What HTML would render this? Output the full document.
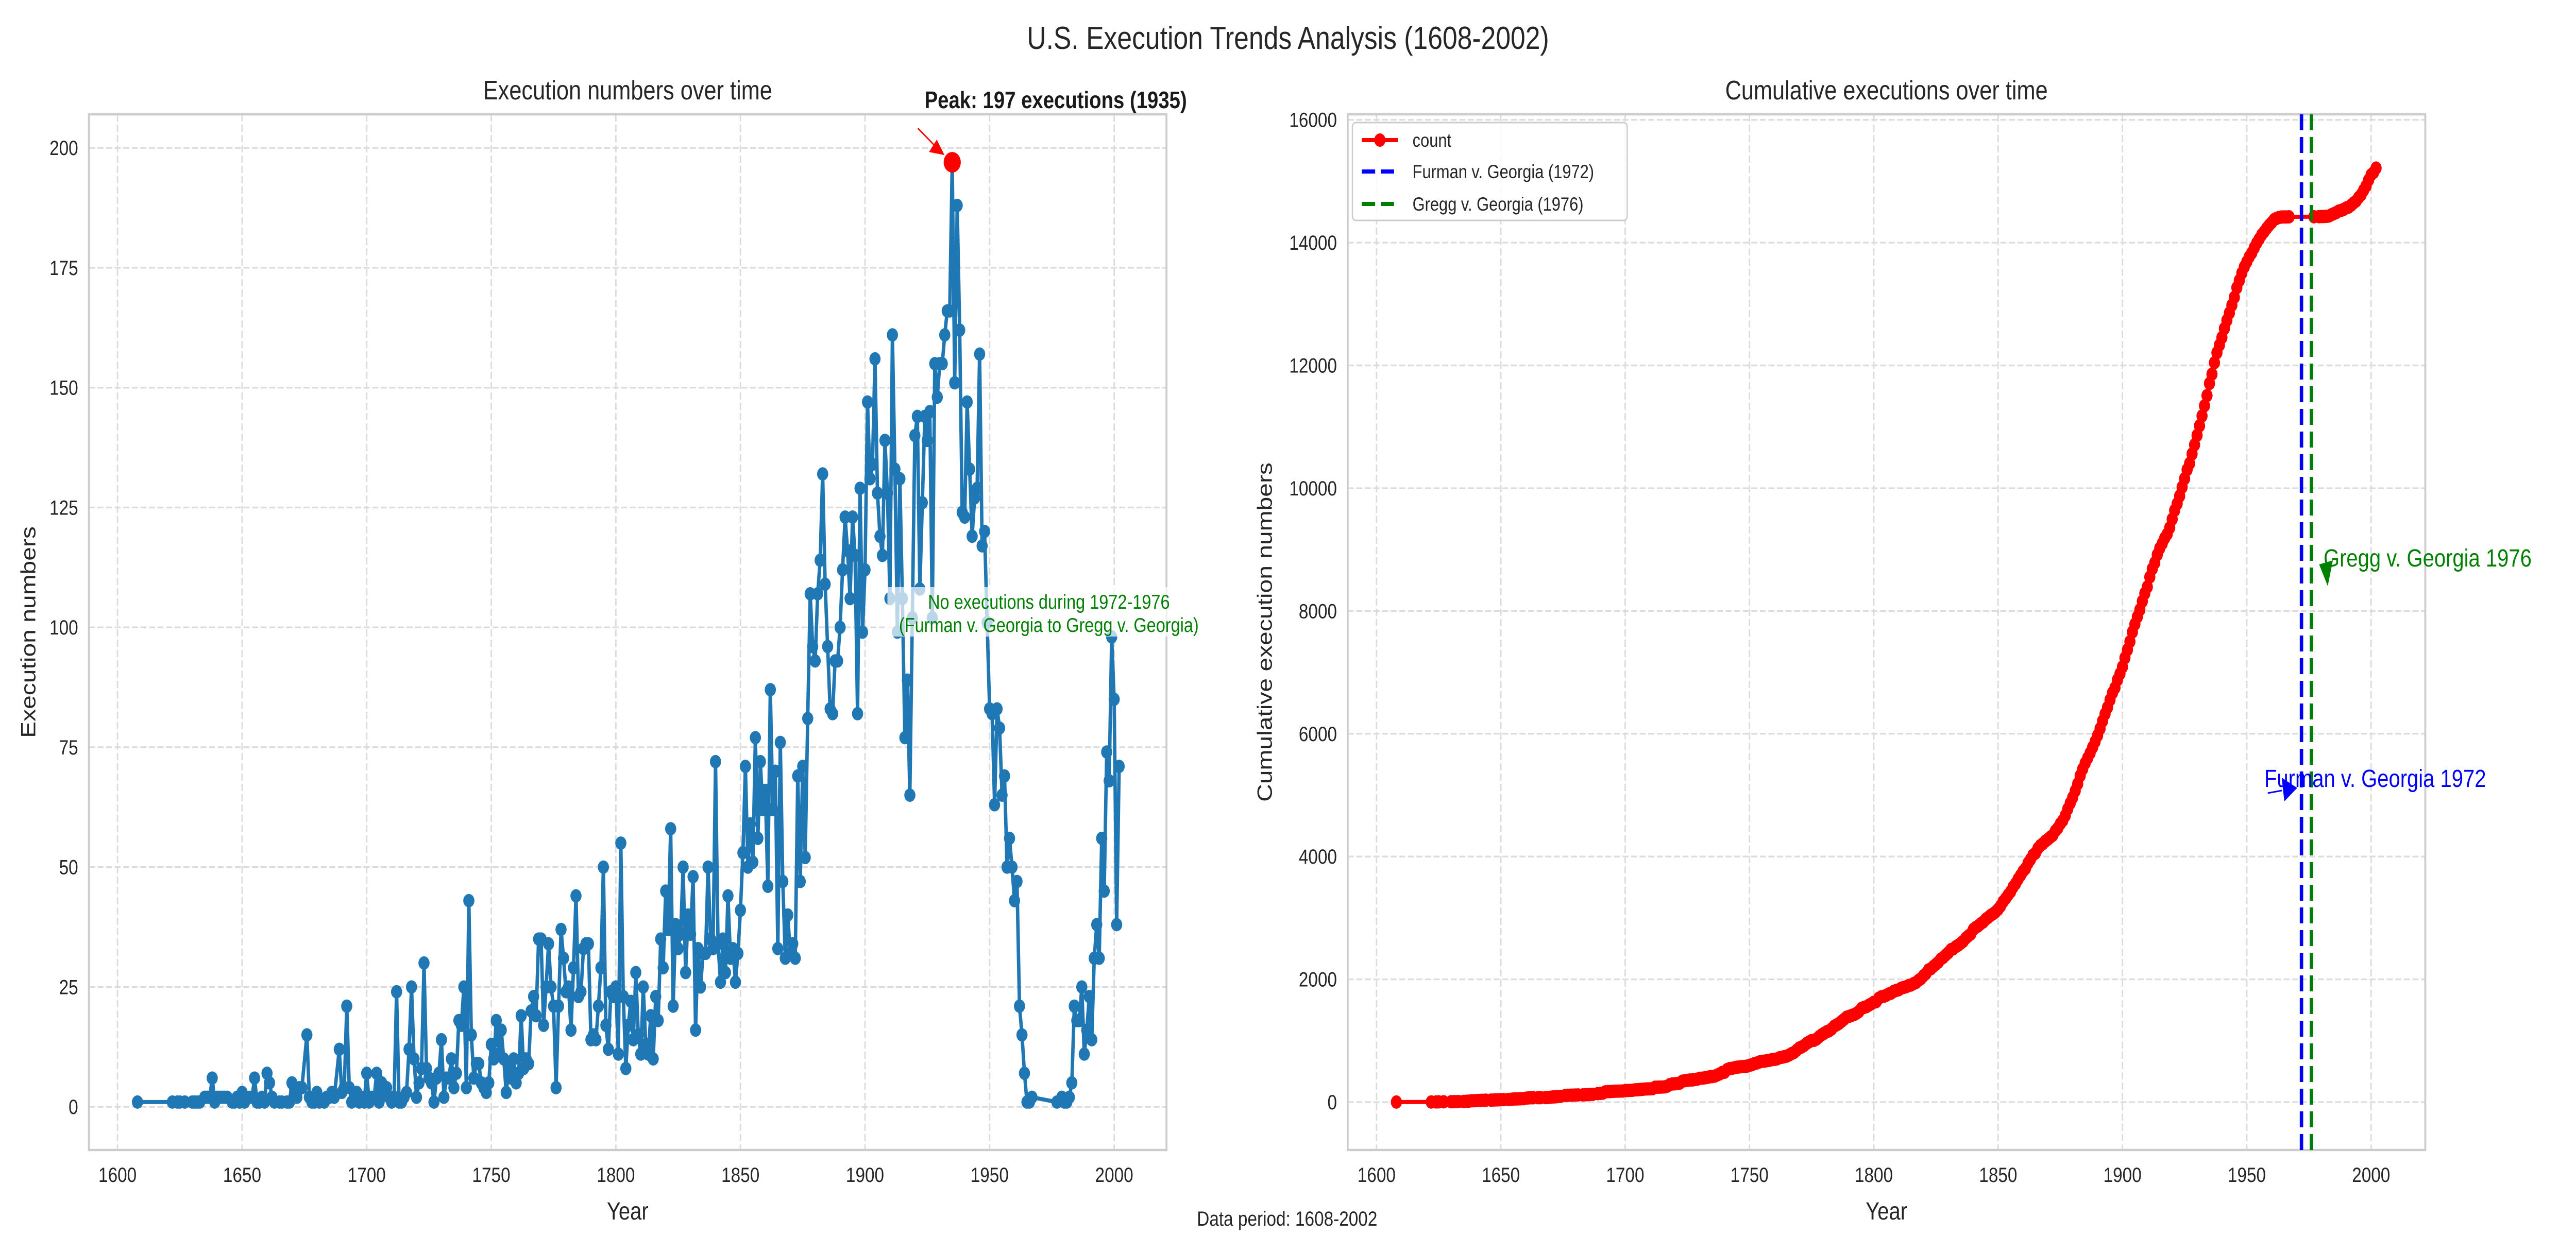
<!DOCTYPE html>
<html><head><meta charset="utf-8">
<style>
html,body{margin:0;padding:0;background:#fff;overflow:hidden;width:100%;height:100%;}
svg{display:block;width:100vw;height:100vh;font-family:"Liberation Sans",Arial,sans-serif;}
</style></head>
<body>
<svg id="fig" viewBox="0 0 6000 2400" preserveAspectRatio="none" xmlns="http://www.w3.org/2000/svg">
<rect width="6000" height="2400" fill="#fff"/>
<text x="3000" y="95" font-size="62" text-anchor="middle" fill="#262626">U.S. Execution Trends Analysis (1608-2002)</text>
<g id="left"></g>
<g id="right"></g>
<text x="2998" y="2380" font-size="40" text-anchor="middle" fill="#262626">Data period: 1608-2002</text>
</svg>
<script>
const records = [
[1608,1],[1622,1],[1624,1],[1625,1],[1627,1],[1630,1],[1631,1],[1632,1],[1633,1],[1635,2],[1636,2],[1637,2],[1638,6],[1639,1],
[1640,2],[1641,2],[1642,2],[1643,2],[1644,2],[1646,1],[1647,1],[1648,2],[1649,1],[1650,3],[1651,1],[1653,2],[1654,2],[1655,6],[1656,1],[1657,1],[1658,2],[1659,1],
[1660,7],[1661,5],[1662,2],[1663,1],[1665,1],[1666,1],[1668,1],[1669,1],[1670,5],[1671,4],[1672,2],[1673,4],[1674,4],[1676,15],[1677,2],[1678,1],[1679,1],
[1680,3],[1681,1],[1683,1],[1684,2],[1685,2],[1686,3],[1687,2],[1689,12],[1690,3],[1691,4],[1692,21],[1693,4],[1694,1],[1695,2],[1696,3],[1697,1],[1698,2],[1699,1],
[1700,7],[1701,1],[1702,2],[1703,2],[1704,7],[1705,1],[1706,5],[1707,3],[1708,4],[1709,2],[1710,1],[1711,2],[1712,24],[1713,1],[1714,1],[1715,2],[1716,3],[1717,12],[1718,25],[1719,10],
[1720,2],[1721,5],[1722,8],[1723,30],[1724,8],[1725,6],[1726,5],[1727,1],[1728,6],[1729,7],[1730,14],[1731,2],[1732,6],[1733,6],[1734,10],[1735,4],[1736,7],[1737,18],[1738,17],[1739,25],
[1740,4],[1741,43],[1742,15],[1743,6],[1744,9],[1745,9],[1746,5],[1747,4],[1748,3],[1749,5],[1750,13],[1751,10],[1752,18],[1753,11],[1754,16],[1755,10],[1756,3],[1757,8],[1758,6],[1759,10],
[1760,5],[1761,7],[1762,19],[1763,8],[1764,10],[1765,9],[1766,20],[1767,23],[1768,19],[1769,35],[1770,35],[1771,17],[1772,25],[1773,34],[1774,25],[1775,21],[1776,4],[1777,21],[1778,37],[1779,31],
[1780,24],[1781,25],[1782,16],[1783,29],[1784,44],[1785,23],[1786,24],[1787,33],[1788,34],[1789,34],[1790,14],[1791,15],[1792,14],[1793,21],[1794,29],[1795,50],[1796,17],[1797,12],[1798,24],[1799,23],
[1800,25],[1801,11],[1802,55],[1803,23],[1804,8],[1805,17],[1806,22],[1807,14],[1808,28],[1809,15],[1810,11],[1811,25],[1812,13],[1813,11],[1814,19],[1815,10],[1816,23],[1817,18],[1818,35],[1819,29],
[1820,45],[1821,37],[1822,58],[1823,21],[1824,38],[1825,33],[1826,36],[1827,50],[1828,28],[1829,40],[1830,36],[1831,48],[1832,16],[1833,33],[1834,25],[1835,32],[1836,32],[1837,50],[1838,35],[1839,33],
[1840,72],[1841,34],[1842,26],[1843,35],[1844,28],[1845,44],[1846,31],[1847,33],[1848,26],[1849,32],[1850,41],[1851,53],[1852,71],[1853,50],[1854,59],[1855,51],[1856,77],[1857,56],[1858,72],[1859,62],
[1860,66],[1861,46],[1862,87],[1863,62],[1864,70],[1865,33],[1866,76],[1867,47],[1868,31],[1869,40],[1870,32],[1871,34],[1872,31],[1873,69],[1874,47],[1875,71],[1876,52],[1877,81],[1878,107],[1879,96],
[1880,93],[1881,107],[1882,114],[1883,132],[1884,109],[1885,96],[1886,83],[1887,82],[1888,93],[1889,93],[1890,100],[1891,112],[1892,123],[1893,116],[1894,106],[1895,123],[1896,115],[1897,82],[1898,129],[1899,99],
[1900,112],[1901,147],[1902,131],[1903,134],[1904,156],[1905,128],[1906,119],[1907,115],[1908,139],[1909,128],[1910,106],[1911,161],[1912,133],[1913,99],[1914,131],[1915,106],[1916,77],[1917,89],[1918,65],[1919,102],
[1920,140],[1921,144],[1922,108],[1923,126],[1924,144],[1925,139],[1926,145],[1927,102],[1928,155],[1929,148],[1930,155],[1931,155],[1932,161],[1933,166],[1934,166],[1935,197],[1936,151],[1937,188],[1938,162],[1939,124],
[1940,123],[1941,147],[1942,133],[1943,119],[1944,127],[1945,129],[1946,157],[1947,117],[1948,120],[1949,101],[1950,83],[1951,82],[1952,63],[1953,83],[1954,79],[1955,65],[1956,69],[1957,50],[1958,56],[1959,50],
[1960,43],[1961,47],[1962,21],[1963,15],[1964,7],[1965,1],[1966,1],[1967,2],[1977,1],[1979,2],[1980,1],[1981,1],[1982,2],[1983,5],[1984,21],[1985,18],[1986,18],[1987,25],[1988,11],[1989,16],
[1990,23],[1991,14],[1992,31],[1993,38],[1994,31],[1995,56],[1996,45],[1997,74],[1998,68],[1999,98],[2000,85],[2001,38],[2002,71]
];
const years = records.map(r=>r[0]);
const counts = records.map(r=>r[1]);
const xTicks = [1600,1650,1700,1750,1800,1850,1900,1950,2000];
const yTicksLeft = [0,25,50,75,100,125,150,175,200];
const yTicksRight = [0,2000,4000,6000,8000,10000,12000,14000,16000];
const peakYear = 1935, peakValue = 197;
const furmanYear = 1972, greggYear = 1976;

const NS = "http://www.w3.org/2000/svg";
function mk(parent, tag, attrs, text){
  const e = document.createElementNS(NS, tag);
  for (const k in attrs) e.setAttribute(k, attrs[k]);
  if (text !== undefined) e.textContent = text;
  parent.appendChild(e);
  return e;
}
const cumulative = [];
let s = 0;
for (const c of counts){ s += c; cumulative.push(s); }

const L = {x0:207, x1:2717, y0:222, y1:2233, xmin:1588.5, xmax:2021, ymin:-9, ymax:207};
const R = {x0:3139, x1:5649, y0:222, y1:2233, xmin:1588.4, xmax:2021.8, ymin:-780, ymax:16090};
function sx(A, v){ return A.x0 + (v - A.xmin) / (A.xmax - A.xmin) * (A.x1 - A.x0); }
function sy(A, v){ return A.y1 - (v - A.ymin) / (A.ymax - A.ymin) * (A.y1 - A.y0); }

function drawAxes(g, A, yTicks, title, ylabel, ylabelX){
  for (const t of xTicks){
    const x = sx(A,t);
    const gl = mk(g,'line',{x1:x,x2:x,y1:A.y0,y2:A.y1,stroke:'#dcdcdc','stroke-width':3.3,'stroke-dasharray':'14 6'});
    
    
    const tl = mk(g,'text',{x:x,y:A.y1+62,'font-size':40,'text-anchor':'middle',fill:'#262626'},String(t));
    
    
  }
  for (const t of yTicks){
    const y = sy(A,t);
    const gl = mk(g,'line',{x1:A.x0,x2:A.x1,y1:y,y2:y,stroke:'#dcdcdc','stroke-width':3.3,'stroke-dasharray':'14 6'});
    
    
    const tl = mk(g,'text',{x:A.x0-25,y:y+14,'font-size':40,'text-anchor':'end',fill:'#262626'},String(t));
    
    
  }
  const fr = mk(g,'rect',{x:A.x0,y:A.y0,width:A.x1-A.x0,height:A.y1-A.y0,fill:'none',stroke:'#cccccc','stroke-width':4.5});
  
  
  const tt = mk(g,'text',{x:(A.x0+A.x1)/2,y:193,'font-size':52,'text-anchor':'middle',fill:'#262626'},title);
  
  
  const xl = mk(g,'text',{x:(A.x0+A.x1)/2,y:2368,'font-size':48,'text-anchor':'middle',fill:'#262626'},'Year');
  
  
  const cy = (A.y0+A.y1)/2;
  const yl = mk(g,'text',{x:ylabelX,y:cy,'font-size':48,'text-anchor':'middle',fill:'#262626',transform:`rotate(-90 ${ylabelX} ${cy})`},ylabel);
  
  
}

// LEFT CHART
const gl = document.getElementById('left');
drawAxes(gl, L, yTicksLeft, 'Execution numbers over time', 'Execution numbers', 82);
let d = '';
years.forEach((yr,i)=>{ d += (i?'L':'M') + sx(L,yr).toFixed(1) + ' ' + sy(L,counts[i]).toFixed(1); });
const lline = mk(gl,'path',{d:d,fill:'none',stroke:'#1f77b4','stroke-width':8,'stroke-linejoin':'round'});


years.forEach((yr,i)=>{
  const c = mk(gl,'circle',{cx:sx(L,yr),cy:sy(L,counts[i]),r:13,fill:'#1f77b4'});
  
  
});
const pk = mk(gl,'circle',{cx:sx(L,peakYear),cy:sy(L,peakValue),r:20,fill:'#ff0000'});


const pkx = sx(L,peakYear)-18, pky = sy(L,peakValue)-14;
const pa = mk(gl,'line',{x1:pkx-62,y1:pky-52,x2:pkx-20,y2:pky-16,stroke:'#ff0000','stroke-width':3});


const ph = mk(gl,'polygon',{points:`${pkx},${pky} ${pkx-36},${pky-6} ${pkx-18},${pky-30}`,fill:'#ff0000'});


const pt = mk(gl,'text',{x:2459,y:210,'font-size':46,'font-weight':'bold','text-anchor':'middle',fill:'#1a1a1a'},'Peak: 197 executions (1935)');


const nb = mk(gl,'rect',{x:2067,y:1140,width:753,height:96,fill:'#ffffff','fill-opacity':0.7});


const n1 = mk(gl,'text',{x:2443,y:1182,'font-size':39,'text-anchor':'middle',fill:'#008000'},'No executions during 1972-1976');


const n2 = mk(gl,'text',{x:2443,y:1227,'font-size':39,'text-anchor':'middle',fill:'#008000'},'(Furman v. Georgia to Gregg v. Georgia)');



// RIGHT CHART
const gr = document.getElementById('right');
drawAxes(gr, R, yTicksRight, 'Cumulative executions over time', 'Cumulative execution numbers', 2962);
let d2 = '';
years.forEach((yr,i)=>{ d2 += (i?'L':'M') + sx(R,yr).toFixed(1) + ' ' + sy(R,cumulative[i]).toFixed(1); });
const rline = mk(gr,'path',{d:d2,fill:'none',stroke:'#ff0000','stroke-width':8,'stroke-linejoin':'round'});


years.forEach((yr,i)=>{
  const c = mk(gr,'circle',{cx:sx(R,yr),cy:sy(R,cumulative[i]),r:13,fill:'#ff0000'});
  
  
});
const fx = sx(R,furmanYear), gx = sx(R,greggYear);
const fl = mk(gr,'line',{x1:fx,x2:fx,y1:R.y0,y2:R.y1,stroke:'#0000ff','stroke-width':8,'stroke-dasharray':'31 13'});


const glin = mk(gr,'line',{x1:gx,x2:gx,y1:R.y0,y2:R.y1,stroke:'#008000','stroke-width':8,'stroke-dasharray':'31 13'});


const gah = mk(gr,'polygon',{points:`${gx+18},1096 ${gx+50},1088 ${gx+38},1138`,fill:'#008000'});


const gt = mk(gr,'text',{x:5412,y:1100,'font-size':48,fill:'#008000'},'Gregg v. Georgia 1976');


const fa = mk(gr,'line',{x1:5282,y1:1540,x2:5315,y2:1535,stroke:'#0000ff','stroke-width':3});


const fah = mk(gr,'polygon',{points:`${fx-10},1530 ${fx-46},1510 ${fx-40},1556`,fill:'#0000ff'});


const ft = mk(gr,'text',{x:5274,y:1528,'font-size':48,fill:'#0000ff'},'Furman v. Georgia 1972');


const lg = mk(gr,'g',{});


mk(lg,'rect',{x:3150,y:238,width:640,height:190,rx:8,fill:'#ffffff','fill-opacity':0.85,stroke:'#cccccc','stroke-width':3});
const entries = [['count','#ff0000',false,272],['Furman v. Georgia (1972)','#0000ff',true,333],['Gregg v. Georgia (1976)','#008000',true,396]];
for (const [lab,col,dash,y] of entries){
  const e = mk(lg,'g',{});
  
  
  mk(e,'line',{x1:3172,x2:3256,y1:y,y2:y,stroke:col,'stroke-width':8,'stroke-dasharray':dash?'31 13':'none'});
  if(!dash) mk(e,'circle',{cx:3214,cy:y,r:13,fill:col});
  mk(e,'text',{x:3290,y:y+13,'font-size':37,fill:'#262626'},lab);
}
</script>
</body></html>
